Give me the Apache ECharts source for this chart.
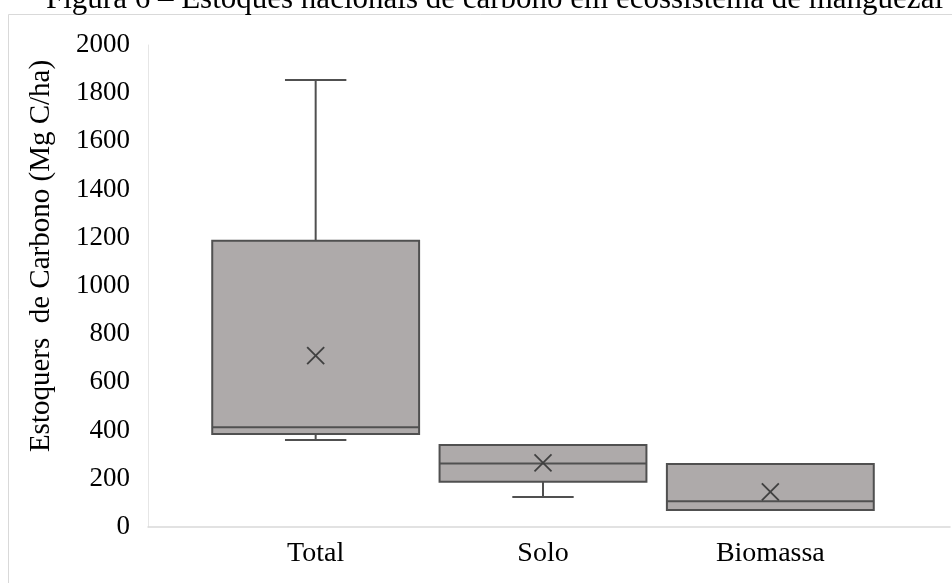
<!DOCTYPE html>
<html>
<head>
<meta charset="utf-8">
<script src="https://cdn.jsdelivr.net/npm/echarts@6/dist/echarts.min.js"></script>
<style>
  html, body { margin: 0; padding: 0; background: #fff; }
  #chart { width: 952px; height: 583px; }
</style>
</head>
<body>
<div id="chart"></div>
<script>
// Carbon stock summary per compartment (Mg C/ha)
const categories = ['Total', 'Solo', 'Biomassa'];
const minValues    = [361, 124, 71];
const q1Values     = [386, 188, 71];
const medianValues = [414, 264, 107];
const q3Values     = [1188, 340, 261];
const maxValues    = [1855, 340, 261];
const meanValues   = [711, 266, 146];

const yMin = 0;
const yMax = 2000;
const yStep = 200;

const titleText = 'Figura 6 \u2013 Estoques nacionais de carbono em ecossistema de manguezal';
const yAxisTitle = 'Estoquers  de Carbono (Mg C/ha)';

const FONT = '"Liberation Serif", "Times New Roman", serif';
const BOX_FILL = '#aeaaaa';
const BOX_LINE = '#505050';

const boxData = categories.map((c, i) => [
  i, minValues[i], q1Values[i], medianValues[i], q3Values[i], maxValues[i], meanValues[i]
]);

// Box, whiskers with short caps, median line and an "x" at the mean
function renderBox(params, api) {
  const idx = api.value(0);
  const band = api.size([1, 0])[0];
  const half = band * 0.455;
  const capHalf = band * 0.135;
  const xMark = 8.5;
  const pMin = api.coord([idx, api.value(1)]);
  const pQ1 = api.coord([idx, api.value(2)]);
  const pMed = api.coord([idx, api.value(3)]);
  const pQ3 = api.coord([idx, api.value(4)]);
  const pMax = api.coord([idx, api.value(5)]);
  const pMean = api.coord([idx, api.value(6)]);
  const cx = pMed[0];
  const lineStyle = { stroke: BOX_LINE, lineWidth: 2, fill: null };
  return {
    type: 'group',
    children: [
      { type: 'line', shape: { x1: cx, y1: pQ3[1], x2: cx, y2: pMax[1] }, style: lineStyle },
      { type: 'line', shape: { x1: cx, y1: pQ1[1], x2: cx, y2: pMin[1] }, style: lineStyle },
      { type: 'rect', shape: { x: cx - half, y: pQ3[1], width: half * 2, height: pQ1[1] - pQ3[1] },
        style: { fill: BOX_FILL, stroke: BOX_LINE, lineWidth: 2 } },
      { type: 'line', shape: { x1: cx - half, y1: pMed[1], x2: cx + half, y2: pMed[1] }, style: lineStyle },
      { type: 'line', shape: { x1: cx - capHalf, y1: pMax[1], x2: cx + capHalf, y2: pMax[1] }, style: lineStyle },
      { type: 'line', shape: { x1: cx - capHalf, y1: pMin[1], x2: cx + capHalf, y2: pMin[1] }, style: lineStyle },
      { type: 'line', shape: { x1: pMean[0] - xMark, y1: pMean[1] - xMark, x2: pMean[0] + xMark, y2: pMean[1] + xMark },
        style: { stroke: '#404040', lineWidth: 1.8 } },
      { type: 'line', shape: { x1: pMean[0] - xMark, y1: pMean[1] + xMark, x2: pMean[0] + xMark, y2: pMean[1] - xMark },
        style: { stroke: '#404040', lineWidth: 1.8 } }
    ]
  };
}

const chart = echarts.init(document.getElementById('chart'), null, { renderer: 'canvas' });

chart.setOption({
  backgroundColor: '#ffffff',
  animation: false,
  title: {
    text: titleText,
    left: 41,
    top: -21,
    textStyle: { fontFamily: FONT, fontSize: 31, fontWeight: 'normal', color: '#000' }
  },
  graphic: [
    {
      type: 'rect',
      left: 6,
      top: 12,
      shape: { width: 945, height: 575 },
      style: { fill: null, stroke: '#d9d9d9', lineWidth: 1 },
      silent: true
    },
    {
      type: 'text',
      x: 41,
      y: 256,
      rotation: Math.PI / 2,
      style: {
        text: yAxisTitle,
        align: 'center',
        verticalAlign: 'middle',
        fontFamily: FONT,
        fontSize: 29,
        fill: '#000'
      },
      silent: true
    }
  ],
  grid: [
    { left: 148, right: 2, top: 45, bottom: 56 },
    { left: 202, right: 68, top: 45, bottom: 56 }
  ],
  xAxis: [
    {
      gridIndex: 0,
      type: 'category',
      data: categories,
      axisLine: { show: true, lineStyle: { color: '#d9d9d9', width: 1.5 } },
      axisTick: { show: false },
      axisLabel: { show: false },
      splitLine: { show: false }
    },
    {
      gridIndex: 1,
      type: 'category',
      data: categories,
      axisLine: { show: false },
      axisTick: { show: false },
      axisLabel: { margin: 13, fontFamily: FONT, fontSize: 28, color: '#000' },
      splitLine: { show: false }
    }
  ],
  yAxis: [
    {
      gridIndex: 0,
      type: 'value',
      min: yMin,
      max: yMax,
      interval: yStep,
      axisLine: { show: true, lineStyle: { color: '#e6e6e6', width: 1 } },
      axisTick: { show: false },
      axisLabel: {
        margin: 18,
        fontFamily: FONT,
        fontSize: 27,
        color: '#000',
        formatter: (v) => String(v)
      },
      splitLine: { show: false }
    },
    {
      gridIndex: 1,
      type: 'value',
      min: yMin,
      max: yMax,
      interval: yStep,
      show: false,
      splitLine: { show: false }
    }
  ],
  series: [
    {
      type: 'custom',
      xAxisIndex: 1,
      yAxisIndex: 1,
      renderItem: renderBox,
      encode: { x: 0, y: [1, 2, 3, 4, 5, 6] },
      data: boxData,
      z: 5
    }
  ]
});
</script>
</body>
</html>
